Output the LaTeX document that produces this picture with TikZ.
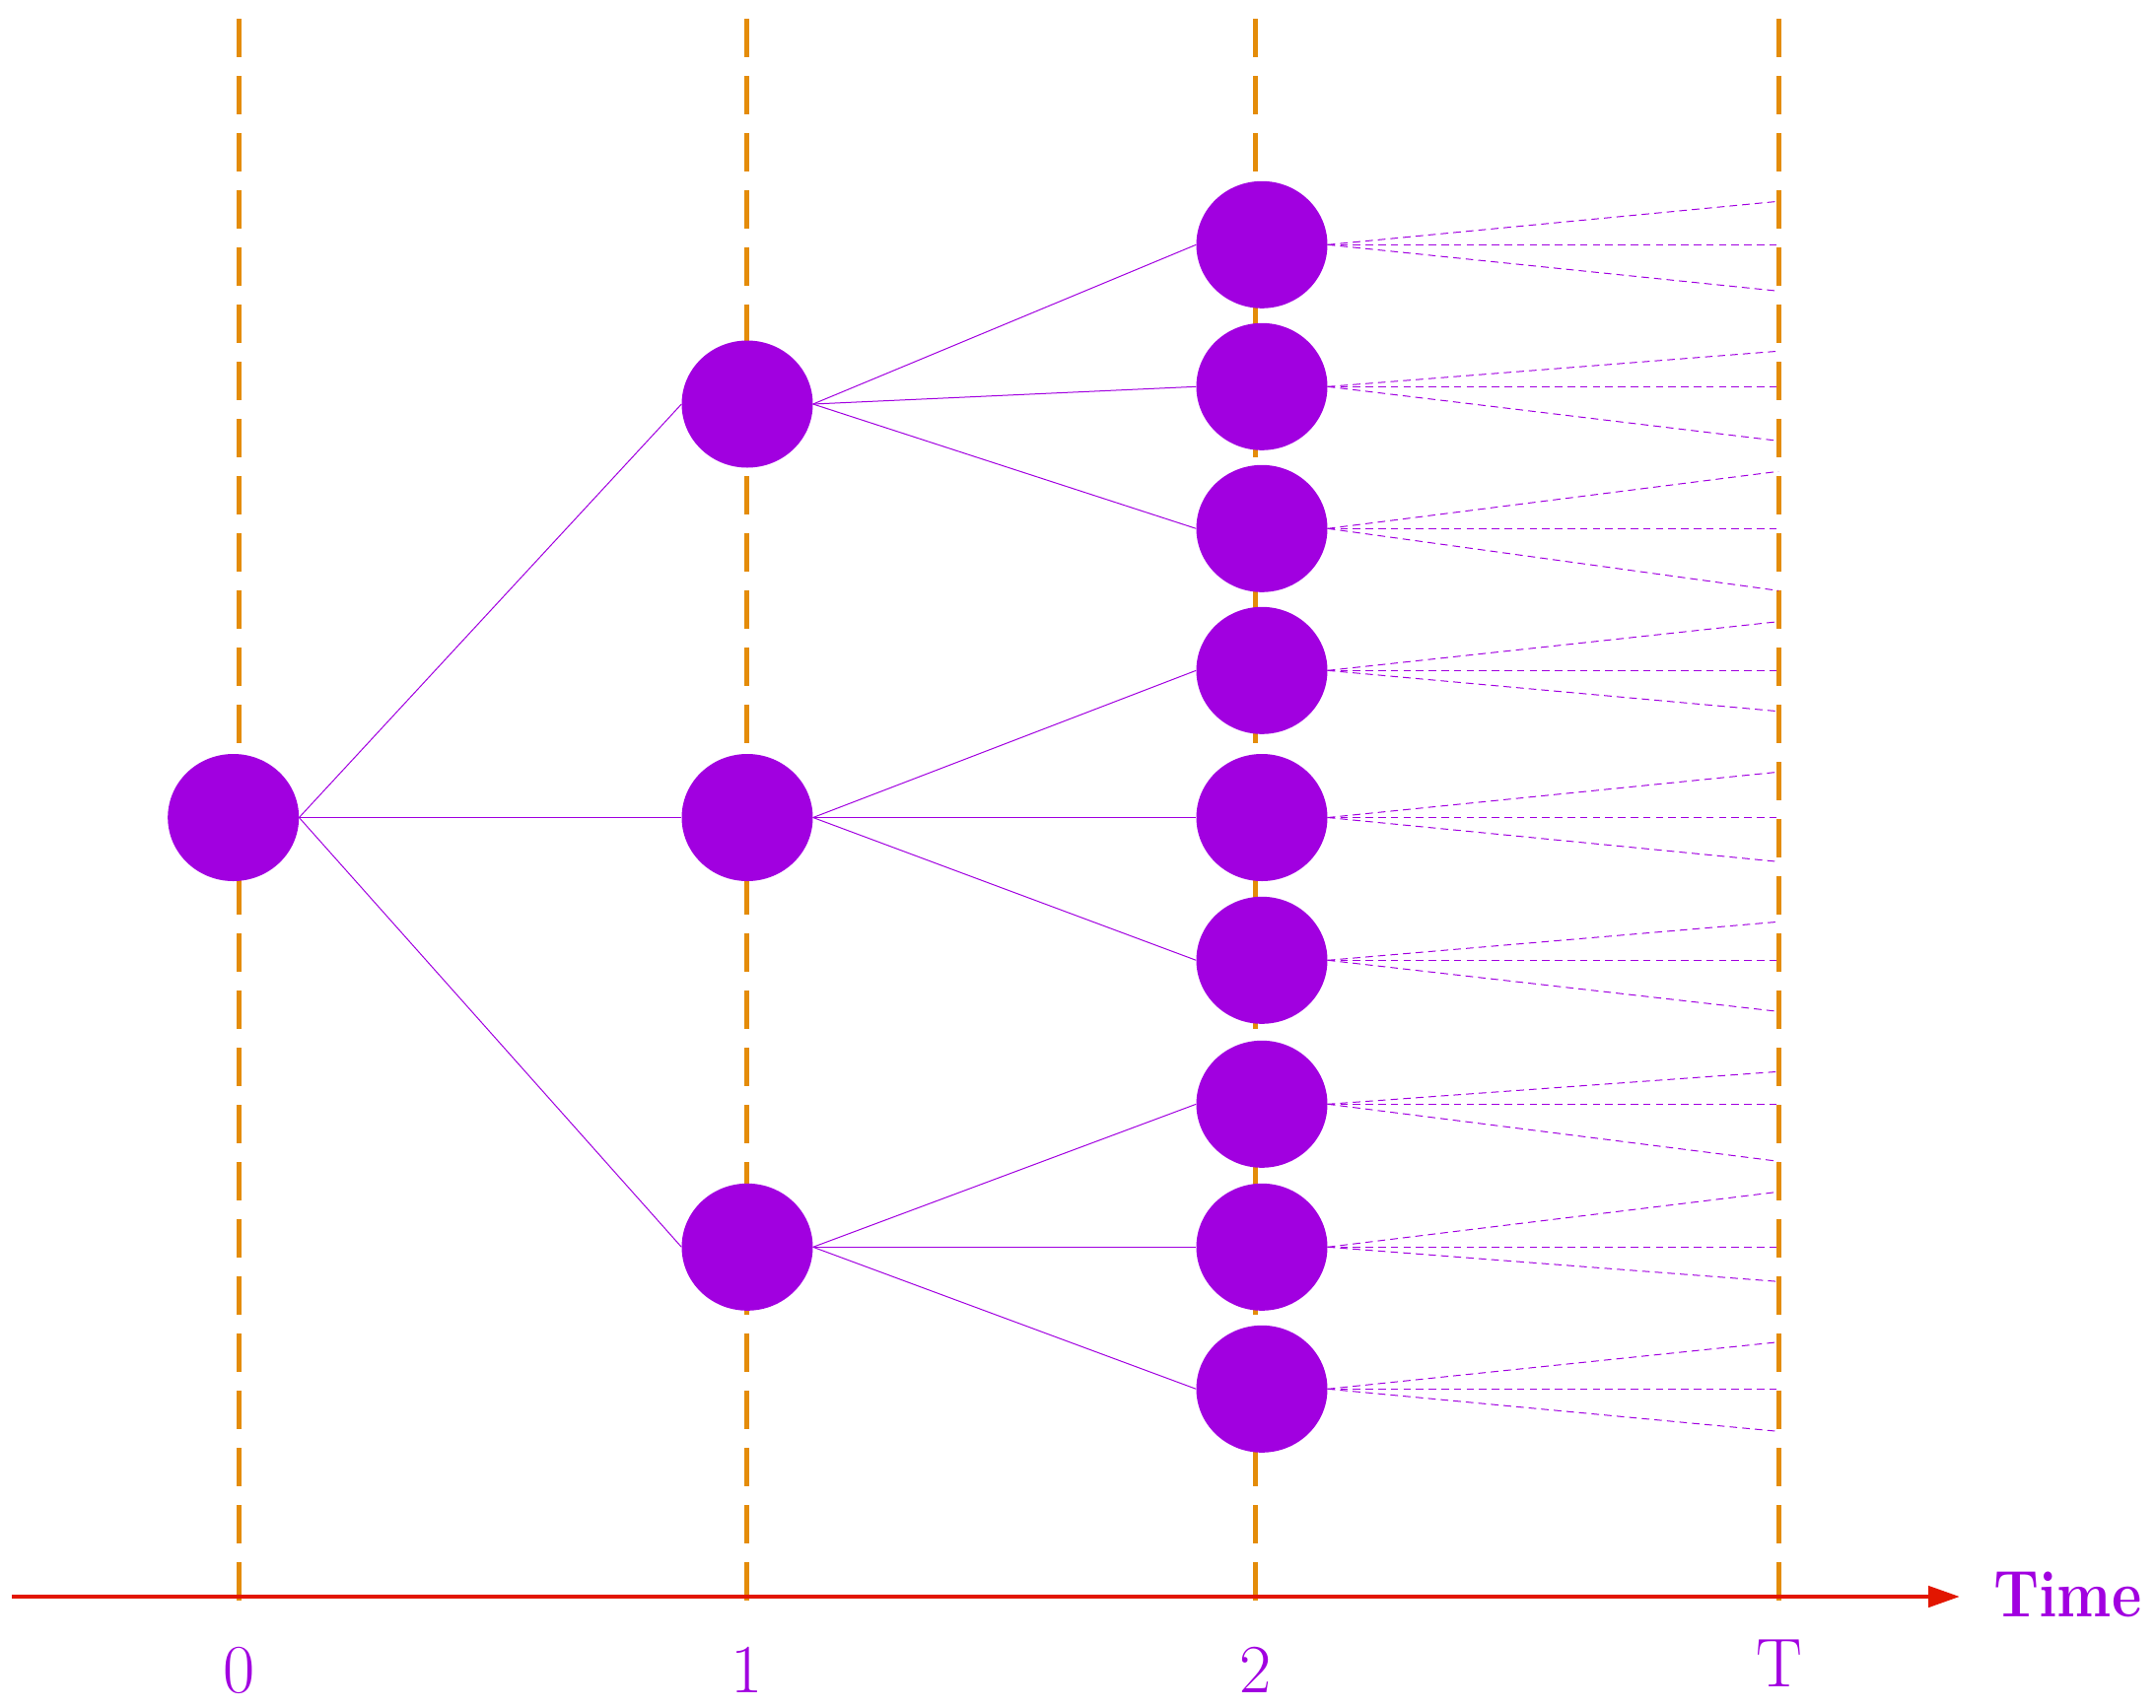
\documentclass[tikz,border=0pt]{standalone}
\usetikzlibrary{shapes.geometric,arrows.meta}
\definecolor{nodepurple}{RGB}{161,0,224}
\definecolor{gridorange}{RGB}{228,140,10}
\definecolor{axisred}{RGB}{226,22,0}
\begin{document}
\begin{tikzpicture}[x=1pt,y=-1pt,
  state/.style={ellipse, fill=nodepurple, draw=none, minimum width=133pt, minimum height=129pt, inner sep=0pt},
  timeline/.style={gridorange, line width=4.7pt, dash pattern=on 39pt off 19pt},
  branch/.style={nodepurple, line width=1pt},
  future/.style={nodepurple, line width=1pt, dash pattern=on 7.7pt off 5.1pt},
  axis/.style={axisred, line width=4.7pt, -{Triangle[length=32pt,width=21pt]}},
  tick/.style={text=nodepurple, font=\fontsize{70}{80}\selectfont, inner sep=0pt}
]
\useasboundingbox (0,0) rectangle (2187,1732);

% time grid lines
\foreach \i/\x in {0/242.7,1/757.4,2/1273.4,3/1804.5}{
  \coordinate (vt\i) at (\x,19.3);
  \coordinate (vb\i) at (\x,1624);
  \draw[timeline] (vt\i) -- (vb\i);
}

% axis
\coordinate (axstart) at (12,1620);
\coordinate (axend) at (1988,1620);
\draw[axis] (axstart) -- (axend);
\node[text=nodepurple, font=\bfseries\fontsize{67}{78}\selectfont, anchor=base west, inner sep=0pt] (time) at (2022,1640.7) {\scalebox{0.88}[1]{Time}};

% tick labels
\node[tick] (l0) at (243,1694.5) {0};
\node[tick] (l1) at (757.4,1694.5) {1};
\node[tick] (l2) at (1273.4,1694.5) {2};
\node[tick] (lT) at (1805,1688) {T};

% nodes
\node[state] (root) at (236.7,829.5) {};
\node[state] (a1) at (758,410) {};
\node[state] (a2) at (758,829.5) {};
\node[state] (a3) at (758,1265.3) {};
\foreach \k/\y in {0/248.3,1/392.3,2/536.3,3/680.3,4/829.5,5/974.3,6/1120.3,7/1265.3,8/1409.3}{
  \node[state] (b\k) at (1280,\y) {};
}

% branches
\foreach \a in {1,2,3}{ \draw[branch] (root.east) -- (a\a.west); }
\foreach \b in {0,1,2}{ \draw[branch] (a1.east) -- (b\b.west); }
\foreach \b in {3,4,5}{ \draw[branch] (a2.east) -- (b\b.west); }
\foreach \b in {6,7,8}{ \draw[branch] (a3.east) -- (b\b.west); }

% future fans
\foreach \k/\yu/\ym/\yd in {0/204.3/248.3/295.3, 1/356.3/392.3/447.3, 2/478.3/536.3/599.3,
  3/630.7/680.3/721.7, 4/783.3/829.5/874.3, 5/935.3/974.3/1026.3,
  6/1087.3/1120.3/1178.3, 7/1209.3/1265.3/1300.3, 8/1361.7/1409.3/1452.3}{
  \coordinate (u\k) at (1804,\yu);
  \coordinate (m\k) at (1804,\ym);
  \coordinate (d\k) at (1804,\yd);
  \draw[future] (b\k.east) -- (u\k);
  \draw[future] (b\k.east) -- (m\k);
  \draw[future] (b\k.east) -- (d\k);
}
\end{tikzpicture}
\end{document}
